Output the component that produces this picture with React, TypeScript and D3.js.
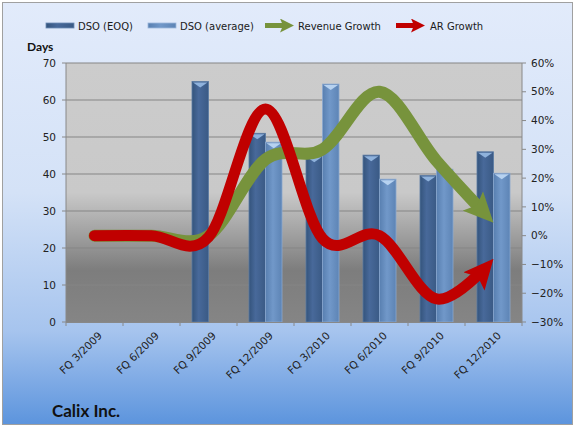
import { useMemo, useRef, useLayoutEffect } from "react";
import * as d3 from "d3";

document.body.style.margin = "0";

const QUARTERS = [
  "FQ 3/2009", "FQ 6/2009", "FQ 9/2009", "FQ 12/2009",
  "FQ 3/2010", "FQ 6/2010", "FQ 9/2010", "FQ 12/2010",
];
// DSO values in days (null = no bar)
const DSO_EOQ: (number | null)[] = [null, null, 65, 51, 44.8, 45.1, 39.6, 46];
const DSO_AVG: (number | null)[] = [null, null, null, 48.6, 64.3, 38.6, 41.3, 40.2];
// growth rates as fractions
const REVENUE_GROWTH = [0, 0, 0, 0.265, 0.3, 0.5, 0.26, 0.045];
const AR_GROWTH = [0, 0, -0.005, 0.44, -0.01, 0, -0.22, -0.08];
const LEFT_TICKS = [0, 10, 20, 30, 40, 50, 60, 70];
const RIGHT_TICKS = [-0.3, -0.2, -0.1, 0, 0.1, 0.2, 0.3, 0.4, 0.5, 0.6];

const W = 575;
const H = 427;
const margin = { top: 63, right: 53, bottom: 105, left: 66 };
const FONT = "'DejaVu Sans', Verdana, sans-serif";
const BOLD = "Lato, 'Open Sans', sans-serif";
const GREEN = "#77933c";
const RED = "#c00000";

// Thick growth line that stops short so the arrow tip sits on the last point
function ArrowLine({ d, color, width, marker }: { d: string; color: string; width: number; marker: string }) {
  const ref = useRef<SVGPathElement>(null);
  useLayoutEffect(() => {
    const p = ref.current;
    if (!p) return;
    const len = p.getTotalLength();
    p.setAttribute("stroke-dasharray", `${len - 16} ${len}`);
  }, [d]);
  return (
    <path ref={ref} d={d} fill="none" stroke={color} strokeWidth={width}
      strokeLinecap="round" markerEnd={`url(#${marker})`} />
  );
}

export default function App() {
  const innerW = W - margin.left - margin.right;
  const innerH = H - margin.top - margin.bottom;

  const x = useMemo(() => d3.scaleBand<string>().domain(QUARTERS).range([0, innerW]), [innerW]);
  const y = useMemo(() => d3.scaleLinear().domain([0, 70]).range([innerH, 0]), [innerH]);
  const yR = useMemo(() => d3.scaleLinear().domain([-0.3, 0.6]).range([innerH, 0]), [innerH]);
  const barW = 16.5;
  const cx = (q: string) => (x(q) || 0) + x.bandwidth() / 2;

  const lineGen = (vals: number[]) =>
    d3
      .line<number>()
      .x((_, i) => cx(QUARTERS[i]))
      .y((d) => yR(d))
      .curve(d3.curveCatmullRom.alpha(0))(vals) || "";

  const bar = (v: number | null, i: number, kind: "eoq" | "avg") => {
    if (v == null) return null;
    const q = QUARTERS[i];
    const bx = kind === "eoq" ? cx(q) - barW : cx(q);
    const by = y(v);
    return (
      <g key={kind + i}>
        <rect x={bx} y={by} width={barW} height={innerH - by}
          fill={`url(#bar-${kind})`} stroke={kind === "eoq" ? "#5a7aa3" : "#8aa8d0"} strokeWidth={0.8} />
        <polygon
          points={`${bx + 1},${by + 1} ${bx + barW - 1},${by + 1} ${bx + barW / 2},${by + 6}`}
          fill={kind === "eoq" ? "#8fb2dc" : "#b7d2f0"} />
      </g>
    );
  };

  return (
    <svg width={W} height={H} style={{ display: "block" }}>
      <defs>
        <linearGradient id="bg" x1="0" y1="0" x2="0" y2="1">
          <stop offset="0" stopColor="#e2ebfb" />
          <stop offset="0.45" stopColor="#d4e2f7" />
          <stop offset="0.78" stopColor="#a6c4ee" />
          <stop offset="1" stopColor="#5c94dd" />
        </linearGradient>
        <linearGradient id="plot" x1="0" y1="0" x2="0" y2="1">
          <stop offset="0" stopColor="#cccccc" />
          <stop offset="0.5" stopColor="#c9c9c9" />
          <stop offset="0.8" stopColor="#7d7d7d" />
          <stop offset="1" stopColor="#858585" />
        </linearGradient>
        <linearGradient id="bar-eoq" x1="0" y1="0" x2="1" y2="0">
          <stop offset="0" stopColor="#34547c" />
          <stop offset="0.4" stopColor="#48699a" />
          <stop offset="1" stopColor="#3a5a85" />
        </linearGradient>
        <linearGradient id="bar-avg" x1="0" y1="0" x2="1" y2="0">
          <stop offset="0" stopColor="#587fb0" />
          <stop offset="0.45" stopColor="#7198c9" />
          <stop offset="1" stopColor="#5d84b5" />
        </linearGradient>
        <marker id="head-green" markerUnits="userSpaceOnUse" viewBox="0 0 30 28"
          markerWidth={30} markerHeight={28} refX={30} refY={14} orient="auto">
          <path d="M0,0 L30,14 L0,28 L6,14 Z" fill={GREEN} />
        </marker>
        <marker id="head-red" markerUnits="userSpaceOnUse" viewBox="0 0 30 28"
          markerWidth={30} markerHeight={28} refX={30} refY={14} orient="auto">
          <path d="M0,0 L30,14 L0,28 L6,14 Z" fill={RED} />
        </marker>
        <marker id="lg-green" markerUnits="userSpaceOnUse" viewBox="0 0 14 14"
          markerWidth={14} markerHeight={14} refX={4} refY={7} orient="auto">
          <path d="M0,0 L14,7 L0,14 L3,7 Z" fill={GREEN} />
        </marker>
        <marker id="lg-red" markerUnits="userSpaceOnUse" viewBox="0 0 14 14"
          markerWidth={14} markerHeight={14} refX={4} refY={7} orient="auto">
          <path d="M0,0 L14,7 L0,14 L3,7 Z" fill={RED} />
        </marker>
      </defs>

      <rect x={2.5} y={2.5} width={W - 5} height={H - 5} fill="url(#bg)" stroke="#a0a0a0" />

      {/* legend */}
      <g fontFamily={FONT} fontSize={10} fill="#1a1a1a">
        <rect x={46} y={23} width={28} height={5} fill="url(#bar-eoq)" stroke="#6d8cb5" strokeWidth={0.8} />
        <text x={78} y={29.5}>DSO (EOQ)</text>
        <rect x={148} y={23} width={28} height={5} fill="url(#bar-avg)" stroke="#9db8dc" strokeWidth={0.8} />
        <text x={180} y={29.5}>DSO (average)</text>
        <line x1={265} y1={25.5} x2={284} y2={25.5} stroke={GREEN} strokeWidth={5} markerEnd="url(#lg-green)" />
        <text x={298} y={29.5}>Revenue Growth</text>
        <line x1={396} y1={25.5} x2={415} y2={25.5} stroke={RED} strokeWidth={5} markerEnd="url(#lg-red)" />
        <text x={430} y={29.5}>AR Growth</text>
      </g>

      <text x={27} y={51} fontFamily={BOLD} fontWeight="bold" fontSize={12} fill="#111">Days</text>

      <g transform={`translate(${margin.left},${margin.top})`}>
        <rect x={0} y={0} width={innerW} height={innerH} fill="url(#plot)" />
        {LEFT_TICKS.map((t) => (
          <line key={t} x1={0} x2={innerW} y1={y(t)} y2={y(t)} stroke="#858585" strokeWidth={1} />
        ))}

        {/* left axis */}
        <line x1={0} x2={0} y1={0} y2={innerH} stroke="#888" />
        {LEFT_TICKS.map((t) => (
          <g key={t}>
            <line x1={-4} x2={0} y1={y(t)} y2={y(t)} stroke="#888" />
            <text x={-10} y={y(t)} dy="0.35em" textAnchor="end" fontFamily={FONT} fontSize={10.5} fill="#222">{t}</text>
          </g>
        ))}
        {/* right axis */}
        <line x1={innerW} x2={innerW} y1={0} y2={innerH} stroke="#888" />
        {RIGHT_TICKS.map((t) => (
          <g key={t}>
            <line x1={innerW} x2={innerW + 4} y1={yR(t)} y2={yR(t)} stroke="#888" />
            <text x={innerW + 9} y={yR(t)} dy="0.35em" fontFamily={FONT} fontSize={10.5} fill="#222">
              {d3.format(".0%")(t)}
            </text>
          </g>
        ))}

        {DSO_EOQ.map((v, i) => bar(v, i, "eoq"))}
        {DSO_AVG.map((v, i) => bar(v, i, "avg"))}

        {/* bottom axis */}
        <line x1={0} x2={innerW} y1={innerH + 0.5} y2={innerH + 0.5} stroke="#888" />
        {[...QUARTERS.map((q) => x(q) || 0), innerW].map((tx, i) => (
          <line key={i} x1={tx} x2={tx} y1={innerH} y2={innerH + 4} stroke="#888" />
        ))}
        {QUARTERS.map((q) => (
          <text key={q} transform={`translate(${cx(q) + 3},${innerH + 9}) rotate(-45)`}
            textAnchor="end" dy="0.7em" fontFamily={FONT} fontSize={10.5} fill="#222">{q}</text>
        ))}

        <ArrowLine d={lineGen(REVENUE_GROWTH)} color={GREEN} width={12} marker="head-green" />
        <ArrowLine d={lineGen(AR_GROWTH)} color={RED} width={11} marker="head-red" />
      </g>

      <text x={52} y={417} fontFamily={BOLD} fontWeight="bold" fontSize={17} fill="#111">Calix Inc.</text>
    </svg>
  );
}
